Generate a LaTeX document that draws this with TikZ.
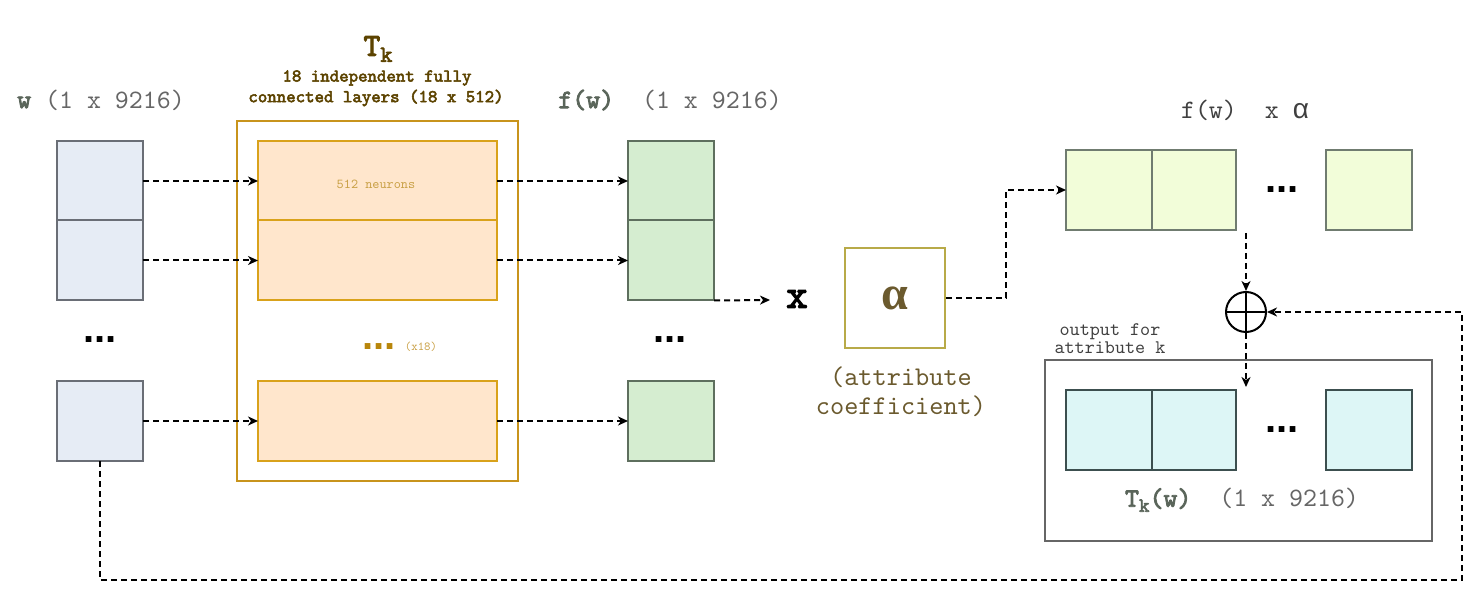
\documentclass[tikz,border=0pt]{standalone}
\usepackage{fontspec}
\setmainfont{Liberation Serif}
\setsansfont{Liberation Sans}
\setmonofont{lmmono10-regular.otf}
\newfontfamily\tb{lmmono10-regular.otf}[FakeBold=3]
\usetikzlibrary{arrows.meta}
\definecolor{wfill}{HTML}{E6ECF5}
\definecolor{wline}{HTML}{6A6E76}
\definecolor{ofill}{HTML}{FFE6CC}
\definecolor{oline}{HTML}{D9A21B}
\definecolor{tkline}{HTML}{C8941C}
\definecolor{ffill}{HTML}{D5EDD0}
\definecolor{fline}{HTML}{5E6F5E}
\definecolor{gfill}{HTML}{F2FDD9}
\definecolor{gline}{HTML}{707C70}
\definecolor{cfill}{HTML}{DDF6F6}
\definecolor{cline}{HTML}{3C4F4F}
\definecolor{outline}{HTML}{666666}
\definecolor{aline}{HTML}{B8AA48}
\definecolor{atext}{HTML}{6B5A2E}
\definecolor{lblgray}{HTML}{666666}
\definecolor{boldgray}{HTML}{5A655A}
\definecolor{titlebrown}{HTML}{5C4300}
\definecolor{neuron}{HTML}{C9A045}
\definecolor{dotbrown}{HTML}{B8860B}
\begin{document}
\begin{tikzpicture}[x=0.5pt,y=-0.5pt,
  cell/.style={draw, line width=1pt, inner sep=0pt, outer sep=0pt, minimum width=43pt, minimum height=40pt},
  wcell/.style={cell, fill=wfill, draw=wline},
  ocell/.style={cell, fill=ofill, draw=oline, minimum width=119.5pt},
  fcell/.style={cell, fill=ffill, draw=fline},
  gcell/.style={cell, fill=gfill, draw=gline},
  ccell/.style={cell, fill=cfill, draw=cline},
  conn/.style={draw=black, line width=1pt, dash pattern=on 3pt off 2pt, -{Stealth[length=5pt,width=4.5pt,inset=1.5pt]}},
  lbl/.style={font=\ttfamily\fontsize{13.3}{15}\selectfont, text=lblgray, inner sep=0pt},
  dots/.style={font=\sffamily\bfseries\fontsize{20}{20}\selectfont, inner sep=0pt},
  title/.style={font=\tb\fontsize{9}{10}\selectfont, text=titlebrown, inner sep=0pt}
]
\useasboundingbox (0,0) rectangle (1476,592);

% labels
\node[lbl] (wlbl) at (101,100) {{\tb\textcolor{boldgray}{w}}~(1~x~9216)};
\node[lbl] (flbl) at (670,100) {{\tb\textcolor{boldgray}{f(w)}}~~(1~x~9216)};
\node[font=\tb\fontsize{16}{18}\selectfont, text=titlebrown, inner sep=0pt] (tkt) at (378,49) {T\raisebox{-3pt}{\fontsize{11.5}{11.5}\selectfont k}};
\node[title] (tk1) at (377,78) {18 independent fully};
\node[title] (tk2) at (376,98) {connected layers (18 x 512)};

% Tk outer box
\node[draw=tkline, line width=1pt, minimum width=140.5pt, minimum height=180pt, inner sep=0pt] (tk) at (377.5,301) {};

% w column
\node[wcell] (w1) at (100,181) {};
\node[wcell] (w2) at (100,260.5) {};
\node[wcell] (w3) at (100,421) {};
\node[dots] (wd) at (100,340) {...};

% orange layers
\node[ocell] (o1) at (377.5,181) {};
\node[ocell] (o2) at (377.5,260.5) {};
\node[ocell] (o3) at (377.5,421) {};
\node[font=\ttfamily\fontsize{6.8}{8}\selectfont, text=neuron, inner sep=0pt] (neur) at (376,184) {512 neurons};
\node[font=\sffamily\bfseries\fontsize{20}{20}\selectfont, text=dotbrown, inner sep=0pt] (od) at (379,347) {...};
\node[font=\ttfamily\fontsize{6.1}{8}\selectfont, text=neuron, inner sep=0pt] (x18) at (421,347) {(x18)};

% f column
\node[fcell] (f1) at (671,181) {};
\node[fcell] (f2) at (671,260.5) {};
\node[fcell] (f3) at (671,421) {};
\node[dots] (fd) at (670,340) {...};

% arrows left part
\draw[conn] (w1.east) -- (o1.west);
\draw[conn] (w2.east) -- (o2.west);
\draw[conn] (w3.east) -- (o3.west);
\draw[conn] (o1.east) -- (f1.west);
\draw[conn] (o2.east) -- (f2.west);
\draw[conn] (o3.east) -- (f3.west);

% multiply
\node[font=\tb\fontsize{20.5}{20.5}\selectfont, inner sep=0pt] (mul) at (797,299) {x};
\coordinate (mulin) at (770,300);
\draw[conn] (f2.south east) -- (mulin);

% alpha
\node[draw=aline, line width=1pt, minimum size=50pt, inner sep=0pt, text=atext, font=\bfseries\fontsize{24}{24}\selectfont] (al) at (895,298) {α};
\node[font=\ttfamily\fontsize{13.5}{14.5}\selectfont, text=atext, align=center, inner sep=0pt] (acoef) at (901,392) {(attribute\\coefficient)};

% scaled output
\node[font=\ttfamily\fontsize{13.3}{15}\selectfont, text=black!75, inner sep=0pt] (falbl) at (1245,110) {f(w)~~x~{\sffamily\fontsize{14}{14}\selectfont α}};
\node[gcell] (g1) at (1109,190) {};
\node[gcell, minimum width=42pt] (g2) at (1194,190) {};
\node[gcell] (g3) at (1369,190) {};
\node[dots] (gd) at (1282,190) {...};
\draw[conn] (al.east) -- ++(60,0) |- (g1.west);

% sum
\node[circle, draw, line width=1pt, minimum size=20pt, inner sep=0pt] (ox) at (1246,312) {};
\draw[line width=1pt] (ox.north) -- (ox.south) (ox.west) -- (ox.east);
\coordinate (gdown) at (1246,233);
\draw[conn] (gdown) -- (ox.north);
\coordinate (cin) at (1246,387);
\draw[conn] (ox.south) -- (cin);

% output box
\node[font=\ttfamily\fontsize{9.6}{9}\selectfont, text=black!75, align=center, inner sep=0pt] (outlbl) at (1110,339) {output for\\attribute k};
\node[draw=outline, line width=1pt, minimum width=193.5pt, minimum height=90.5pt, inner sep=0pt] (out) at (1238.5,450.5) {};
\node[ccell] (c1) at (1109,430) {};
\node[ccell, minimum width=42pt] (c2) at (1194,430) {};
\node[ccell] (c3) at (1369,430) {};
\node[dots] (cd) at (1282,430) {...};
\node[lbl] (tklbl) at (1242,500) {{\tb\textcolor{boldgray}{T\raisebox{-2.5pt}{\fontsize{10}{10}\selectfont k}(w)}}~~(1~x~9216)};

% feedback
\coordinate (fb) at (1462,580);
\draw[conn] (w3.south) |- (fb) |- (ox.east);
\end{tikzpicture}
\end{document}
